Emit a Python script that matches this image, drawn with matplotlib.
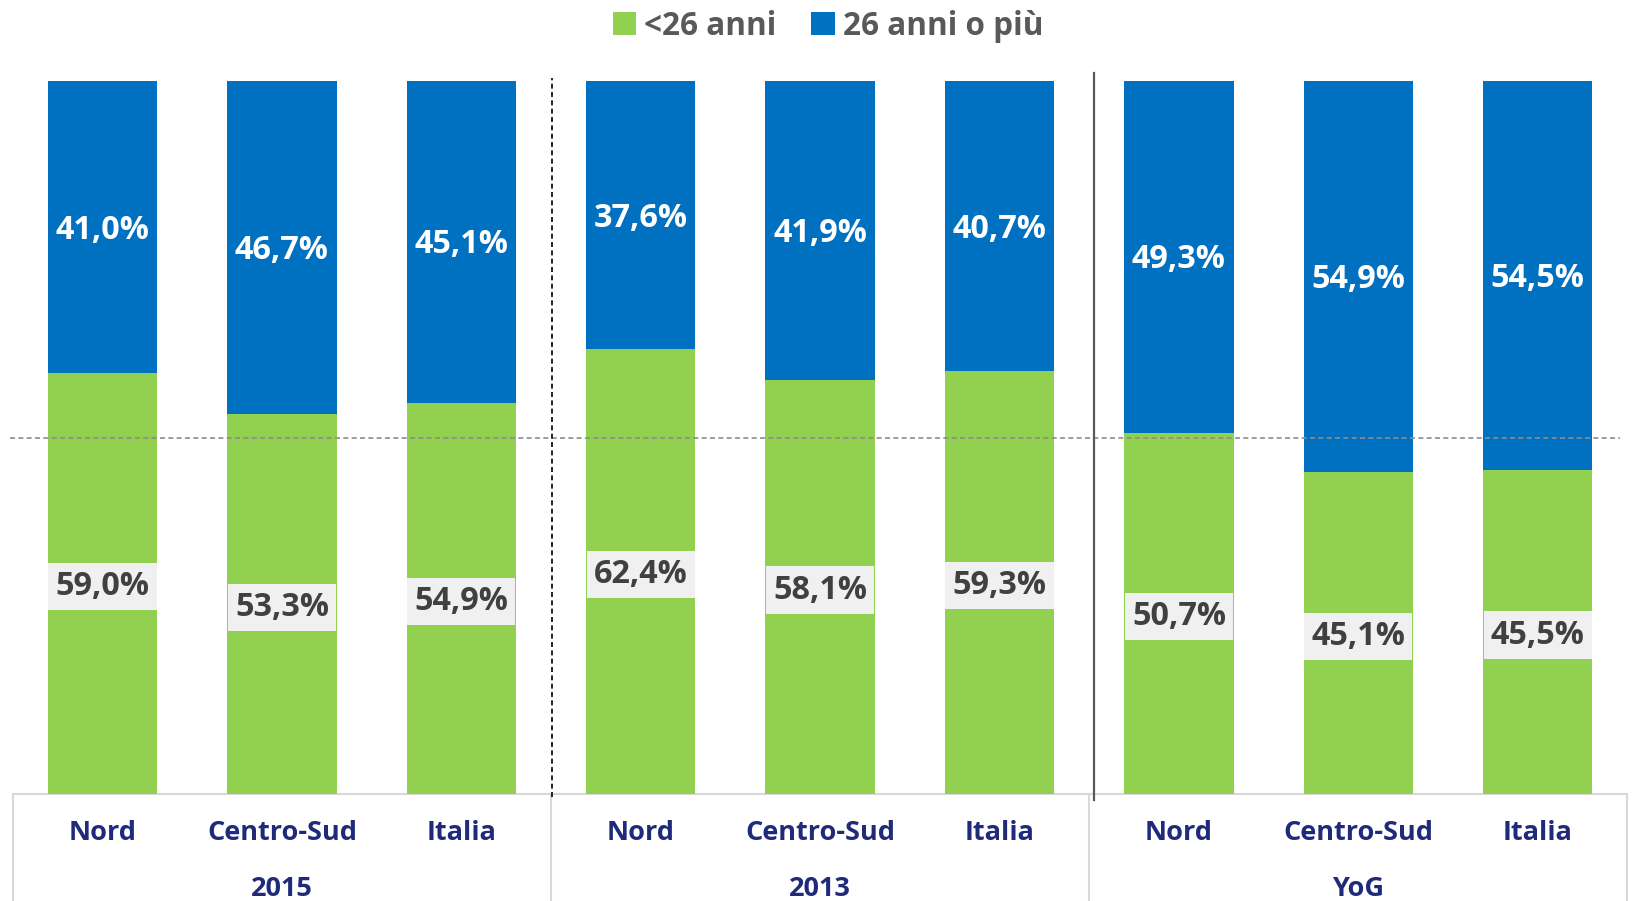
import matplotlib
matplotlib.use("Agg")
import matplotlib.pyplot as plt
from matplotlib.patches import Patch

plt.rcParams['font.family'] = ['Open Sans', 'DejaVu Sans']

categories = ["Nord", "Centro-Sud", "Italia"]
groups = ["2015", "2013", "YoG"]
under26 = [59.0, 53.3, 54.9, 62.4, 58.1, 59.3, 50.7, 45.1, 45.5]
over26 = [41.0, 46.7, 45.1, 37.6, 41.9, 40.7, 49.3, 54.9, 54.5]
series_names = ["<26 anni", "26 anni o più"]

GREEN = "#92D050"
BLUE = "#0070C0"
NAVY = "#1F2A7A"
GRID = "#D9D9D9"

W, H = 1633, 901
fig = plt.figure(figsize=(W / 100, H / 100), dpi=100)
left = 12.8 / W
right = 1627.4 / W
bottom = (H - 794) / H
top = (H - 81) / H
ax = fig.add_axes([left, bottom, right - left, top - bottom])
ax.set_xlim(-0.5, 8.5)
ax.set_ylim(0, 100)
ax.axis("off")

x = list(range(len(under26)))
bw = 0.61
ax.bar(x, under26, width=bw, color=GREEN, edgecolor="none", zorder=2)
ax.bar(x, over26, width=bw, bottom=under26, color=BLUE, edgecolor="none", zorder=2)

def fmt(v):
    return f"{v:.1f}".replace(".", ",") + "%"

dy = 0.45  # small downward shift of text to match reference
for xi, g, b in zip(x, under26, over26):
    ax.text(xi, g / 2 - dy, fmt(g), ha="center", va="center", fontsize=23.3, fontweight="bold",
            color="#404040", zorder=4,
            bbox=dict(boxstyle="square,pad=0.22", fc="#F0F0F0", ec="none"))
    ax.text(xi, g + b / 2 - dy, fmt(b), ha="center", va="center", fontsize=23.3, fontweight="bold",
            color="white", zorder=4)

# 50% reference line
ax.plot([-0.515, 8.46], [50, 50], color="#8C8C8C", lw=1.2, ls=(0, (3, 2)), zorder=3, clip_on=False)

# group separators in plot area
ax.plot([2.505, 2.505], [-0.4, 100.4], color="black", lw=1.2, ls=(0, (3, 2)), zorder=5, clip_on=False)
ax.plot([5.527, 5.527], [-0.8, 101.1], color="#595959", lw=1.6, zorder=5, clip_on=False)

# bottom category box
ax.plot([-0.5, 8.5], [0, 0], color=GRID, lw=1.5, clip_on=False, zorder=1)
for xv in [-0.5, 2.5, 5.5, 8.5]:
    ax.plot([xv, xv], [0, -16], color=GRID, lw=1.5, clip_on=False, zorder=1)

for i, xi in enumerate(x):
    ax.text(xi, -5.5, categories[i % 3], ha="center", va="center", fontsize=19.5,
            fontweight="bold", color=NAVY, clip_on=False)
for j, gname in enumerate(groups):
    ax.text(3 * j + 1, -13.35, gname, ha="center", va="center", fontsize=19.5,
            fontweight="bold", color=NAVY, clip_on=False)

handles = [Patch(facecolor=GREEN, edgecolor="none"), Patch(facecolor=BLUE, edgecolor="none")]
fig.legend(handles, series_names, loc="center", bbox_to_anchor=(0.507, 0.971), ncol=2,
           frameon=False, prop=dict(size=22.7, weight="bold"), labelcolor="#595959",
           handlelength=0.75, handleheight=0.75, handletextpad=0.25, columnspacing=1.1)

fig.savefig("out.png", dpi=100)
